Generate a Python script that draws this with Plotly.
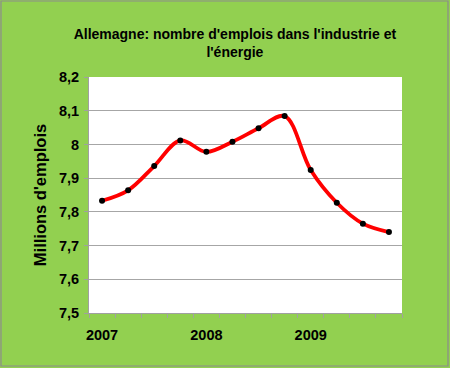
import plotly.graph_objects as go

quarters = list(range(12))
values = [7.833, 7.864, 7.936, 8.012, 7.978, 8.008, 8.048, 8.084, 7.924, 7.827, 7.765, 7.740]
year_positions = [0, 4, 8]
year_labels = ["2007", "2008", "2009"]
y_ticks = [7.5, 7.6, 7.7, 7.8, 7.9, 8.0, 8.1, 8.2]
y_labels = ["7,5", "7,6", "7,7", "7,8", "7,9", "8", "8,1", "8,2"]

GREEN = "#92D050"
font_family = "Liberation Sans, Arial, sans-serif"

fig = go.Figure()
fig.add_trace(go.Scatter(
    x=quarters, y=values, mode="lines+markers",
    line=dict(color="#FF0000", width=3.8, shape="spline", smoothing=1.0),
    marker=dict(color="black", size=6),
    showlegend=False, hoverinfo="skip",
))

fig.update_layout(
    width=450, height=368,
    margin=dict(l=89, r=48, t=77, b=55),
    paper_bgcolor=GREEN, plot_bgcolor="white",
    font=dict(family=font_family, color="black"),
    title=dict(
        text="<b>Allemagne: nombre d'emplois dans l'industrie et<br>l'énergie</b>",
        x=0.522, xanchor="center", y=0.895, yanchor="middle",
        font=dict(size=14, family=font_family, color="black"),
    ),
    xaxis=dict(
        range=[-0.5, 11.5], tickvals=year_positions, ticktext=year_labels,
        ticks="", showgrid=False, zeroline=False,
        showline=True, linecolor="#A0A0A0", linewidth=1,
        tickfont=dict(size=14.5, family=font_family, color="black", weight="bold"),
        ticklabelstandoff=9,
        minor=dict(tick0=-0.5, dtick=1, ticks="outside", ticklen=4, tickcolor="#A0A0A0", showgrid=False),
        fixedrange=True,
    ),
    yaxis=dict(
        range=[7.5, 8.2], tickvals=y_ticks, ticktext=y_labels,
        ticks="outside", ticklen=4, tickcolor="#A0A0A0",
        showgrid=True, gridcolor="#A6A6A6", gridwidth=1,
        zeroline=False, showline=True, linecolor="#A0A0A0", linewidth=1,
        tickfont=dict(size=14.5, family=font_family, color="black", weight="bold"),
        ticklabelstandoff=2,
        title=dict(text="<b>Millions d'emplois</b>", font=dict(size=16.5, family=font_family, color="black"), standoff=8),
        fixedrange=True,
    ),
)

# outer chart border
fig.add_shape(type="rect", xref="paper", yref="paper",
              x0=(1 - 89) / 313, x1=(448 - 89) / 313,
              y0=(313 - 366) / 236, y1=(313 - 1) / 236,
              line=dict(color="#8C8C8C", width=1.2), fillcolor="rgba(0,0,0,0)", layer="below")

fig.write_html("out.html", config={"displayModeBar": False},
               post_script="document.body.style.margin='0';")
